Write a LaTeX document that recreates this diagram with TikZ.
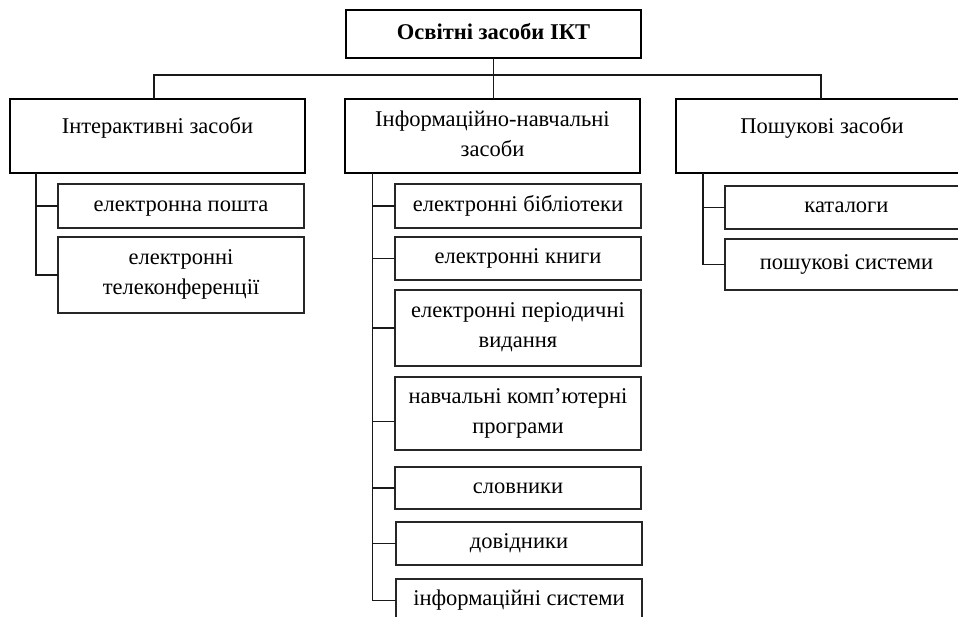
\documentclass[tikz,border=0pt]{standalone}
\usepackage{fontspec}
\setmainfont{Liberation Serif}
\newcommand\mystrut{\vrule height 15pt depth 5pt width 0pt\relax}
\begin{document}
\begin{tikzpicture}[x=1pt,y=-1pt,
  every node/.style={font=\fontsize{22.5}{30}\selectfont, align=center, inner sep=0pt, outer sep=0pt,
     execute at begin node=\mystrut, execute at end node=\mystrut},
  topbox/.style={draw=black, line width=2.4pt, rectangle, font=\fontsize{22.5}{30}\selectfont\bfseries},
  catbox/.style={draw=black, line width=2pt, rectangle},
  itembox/.style={draw=black!85, line width=1.3pt, rectangle},
  conn/.style={draw=black!90, line width=1.5pt}]
\useasboundingbox (0,0) rectangle (958,616);
\clip (0,0) rectangle (958,616);
% top
\node[topbox, minimum width=295pt, minimum height=48pt] (top) at (493.5,34) {Освітні засоби ІКТ};
% level 1
\node[catbox, minimum width=295pt, minimum height=74pt, text height=15pt, text depth=21pt] (L) at (157.5,136) {Інтерактивні засоби};
\node[catbox, minimum width=295pt, minimum height=74pt] (M) at (492.5,136) {Інформаційно-навчальні\\засоби};
\node[catbox, minimum width=292pt, minimum height=74pt, text height=15pt, text depth=21pt] (R) at (822,136) {Пошукові засоби};
% left children
\node[itembox, minimum width=246pt, minimum height=44pt] (Lc1) at (181,206) {електронна пошта};
\node[itembox, minimum width=246pt, minimum height=76pt] (Lc2) at (181,275) {електронні\\телеконференції};
% middle children
\node[itembox, minimum width=246pt, minimum height=44pt] (Mc1) at (518,206) {електронні бібліотеки};
\node[itembox, minimum width=246pt, minimum height=43pt] (Mc2) at (518,258.5) {електронні книги};
\node[itembox, minimum width=246pt, minimum height=76pt] (Mc3) at (518,328) {електронні періодичні\\видання};
\node[itembox, minimum width=246pt, minimum height=73pt] (Mc4) at (518,413.5) {навчальні комп’ютерні\\програми};
\node[itembox, minimum width=246pt, minimum height=42pt] (Mc5) at (518,488) {словники};
\node[itembox, minimum width=246pt, minimum height=43pt] (Mc6) at (519,543.5) {довідники};
\node[itembox, minimum width=246pt, minimum height=43pt] (Mc7) at (519,600.5) {інформаційні системи};
% right children
\node[itembox, minimum width=243pt, minimum height=43pt] (Rc1) at (846.5,207.5) {каталоги};
\node[itembox, minimum width=243pt, minimum height=51pt] (Rc2) at (846.5,264.5) {пошукові системи};
% bus
\coordinate (busL) at (154,75);
\coordinate (busR) at (821,75);
\draw[conn] (busL |- L.north) -- (busL) -- (busR) -- (busR |- R.north);
\draw[conn] (top.south) -- (top.south |- M.north);
% left tree
\coordinate (vL) at (36,0);
\draw[conn] (vL |- L.south) -- (vL |- Lc2.west) -- (Lc2.west);
\draw[conn] (vL |- Lc1.west) -- (Lc1.west);
% middle tree
\coordinate (vM) at (372.7,0);
\draw[conn] (vM |- M.south) -- (vM |- Mc7.west) -- (Mc7.west);
\foreach \n in {Mc1,Mc2,Mc3,Mc5,Mc6} {\draw[conn] (vM |- \n.west) -- (\n.west);}
\coordinate (Mc4in) at ([yshift=-8pt]Mc4.west);
\draw[conn] (vM |- Mc4in) -- (Mc4in);
% right tree
\coordinate (vR) at (703,0);
\draw[conn] (vR |- R.south) -- (vR |- Rc2.west) -- (Rc2.west);
\draw[conn] (vR |- Rc1.west) -- (Rc1.west);
\end{tikzpicture}
\end{document}
